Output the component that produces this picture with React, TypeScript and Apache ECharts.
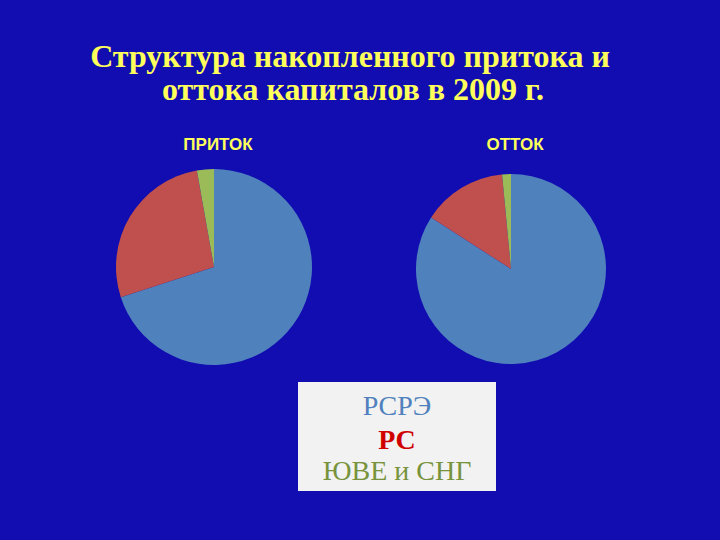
import * as echarts from 'echarts';
import { useEffect, useRef } from 'react';

// регионы (легенда) и доли, %
const regions = ['РСРЭ', 'РС', 'ЮВЕ и СНГ'];
const regionColors = ['#4F81BD', '#C0504D', '#9BBB59'];
const legendColors = ['#4F81BD', '#D00000', '#77933C'];
const inflow = [70.0, 27.2, 2.8];
const outflow = [84.1, 14.4, 1.5];
const pieTitles = ['ПРИТОК', 'ОТТОК'];
const titleLines = ['Структура накопленного притока и', 'оттока капиталов в 2009 г.'];

const BG = '#110DB0';
const YELLOW = '#FFFF5C';

export default function App() {
  const chartRef = useRef<HTMLDivElement>(null);

  useEffect(() => {
    if (!chartRef.current) return;
    const chart = echarts.init(chartRef.current, undefined, { renderer: 'svg' });

    const toData = (vals: number[]) =>
      vals.map((v, i) => ({ name: regions[i], value: v, itemStyle: { color: regionColors[i] } }));

    const option = {
      animation: false,
      backgroundColor: BG,
      series: [
        {
          name: pieTitles[0],
          type: 'pie',
          center: [214, 267],
          radius: 98,
          startAngle: 90,
          label: { show: false },
          labelLine: { show: false },
          itemStyle: { borderWidth: 0 },
          emphasis: { disabled: true },
          data: toData(inflow),
        },
        {
          name: pieTitles[1],
          type: 'pie',
          center: [511, 269],
          radius: 95,
          startAngle: 90,
          label: { show: false },
          labelLine: { show: false },
          itemStyle: { borderWidth: 0 },
          emphasis: { disabled: true },
          data: toData(outflow),
        },
      ],
      graphic: [
        // заголовок
        ...titleLines.map((line, i) => ({
          type: 'text',
          x: i === 0 ? 350 : 353,
          y: i === 0 ? 56 : 89,
          style: {
            text: line,
            fill: YELLOW,
            font: 'bold 32px "Liberation Serif", "Times New Roman", serif',
            align: 'center',
            verticalAlign: 'middle',
          },
        })),
        // подписи диаграмм
        ...pieTitles.map((t, i) => ({
          type: 'text',
          x: i === 0 ? 218 : 515,
          y: 144,
          style: {
            text: t,
            fill: YELLOW,
            font: 'bold 17px "Liberation Sans", Arial, sans-serif',
            align: 'center',
            verticalAlign: 'middle',
          },
        })),
        // легенда
        {
          type: 'rect',
          shape: { x: 298, y: 382, width: 198, height: 109 },
          style: { fill: '#F2F2F2' },
        },
        ...regions.map((r, i) => ({
          type: 'text',
          x: 397,
          y: [405, 439, 470][i],
          style: {
            text: r,
            fill: legendColors[i],
            font: `${i === 1 ? 'bold ' : ''}28px "Liberation Serif", "Times New Roman", serif`,
            align: 'center',
            verticalAlign: 'middle',
          },
        })),
      ],
    };

    chart.setOption(option);
    return () => {
      chart.dispose();
    };
  }, []);

  return (
    <div
      ref={chartRef}
      style={{ position: 'fixed', left: 0, top: 0, width: '720px', height: '540px' }}
    />
  );
}
